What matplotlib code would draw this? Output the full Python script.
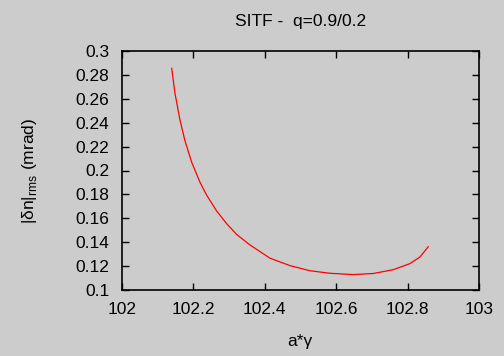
import matplotlib
matplotlib.use("Agg")
import matplotlib.pyplot as plt

# values
a_gamma = [102.140, 102.149, 102.163, 102.177, 102.196, 102.219, 102.238,
           102.266, 102.294, 102.322, 102.359, 102.415, 102.471, 102.527,
           102.583, 102.648, 102.704, 102.760, 102.807, 102.835, 102.858]
dn_rms = [0.2855, 0.2648, 0.2424, 0.2249, 0.2068, 0.1902, 0.1792,
          0.1660, 0.1554, 0.1464, 0.1377, 0.1266, 0.1204, 0.1161,
          0.1140, 0.1129, 0.1138, 0.1170, 0.1221, 0.1277, 0.1362]

xticks = [102, 102.2, 102.4, 102.6, 102.8, 103]
yticks = [0.1, 0.12, 0.14, 0.16, 0.18, 0.2, 0.22, 0.24, 0.26, 0.28, 0.3]

plt.rcParams['font.family'] = ['Liberation Sans', 'DejaVu Sans']
plt.rcParams['mathtext.fontset'] = 'custom'
plt.rcParams['mathtext.rm'] = 'Liberation Sans'
bg = '#cccccc'

fig = plt.figure(figsize=(5.04, 3.56), dpi=100, facecolor=bg)
ax = fig.add_axes([121.7 / 504, 1 - 290 / 356, (479 - 121.7) / 504, (290 - 51) / 356])
ax.set_facecolor(bg)

ax.plot(a_gamma, dn_rms, color='red', lw=0.9)

ax.set_xlim(102, 103)
ax.set_ylim(0.1, 0.3)
ax.set_xticks(xticks)
ax.set_xticklabels(['102', '102.2', '102.4', '102.6', '102.8', '103'])
ax.set_yticks(yticks)
ax.set_yticklabels(['0.1', '0.12', '0.14', '0.16', '0.18', '0.2', '0.22',
                    '0.24', '0.26', '0.28', '0.3'])
ax.tick_params(direction='in', length=5, width=1, top=True, right=True,
               labelsize=12.5)
ax.tick_params(axis='y', pad=9)
ax.tick_params(axis='x', pad=9)
for s in ax.spines.values():
    s.set_linewidth(1.2)

ax.set_title('SITF -  q=0.9/0.2', fontsize=12.5, pad=18)
ax.set_xlabel('a*\u03b3', fontsize=12.5, labelpad=12)
ax.set_ylabel('|\u03b4n|$_{\\rm rms}$ (mrad)', fontsize=12.5, labelpad=26)

fig.savefig('out.png', dpi=100, facecolor=bg)
